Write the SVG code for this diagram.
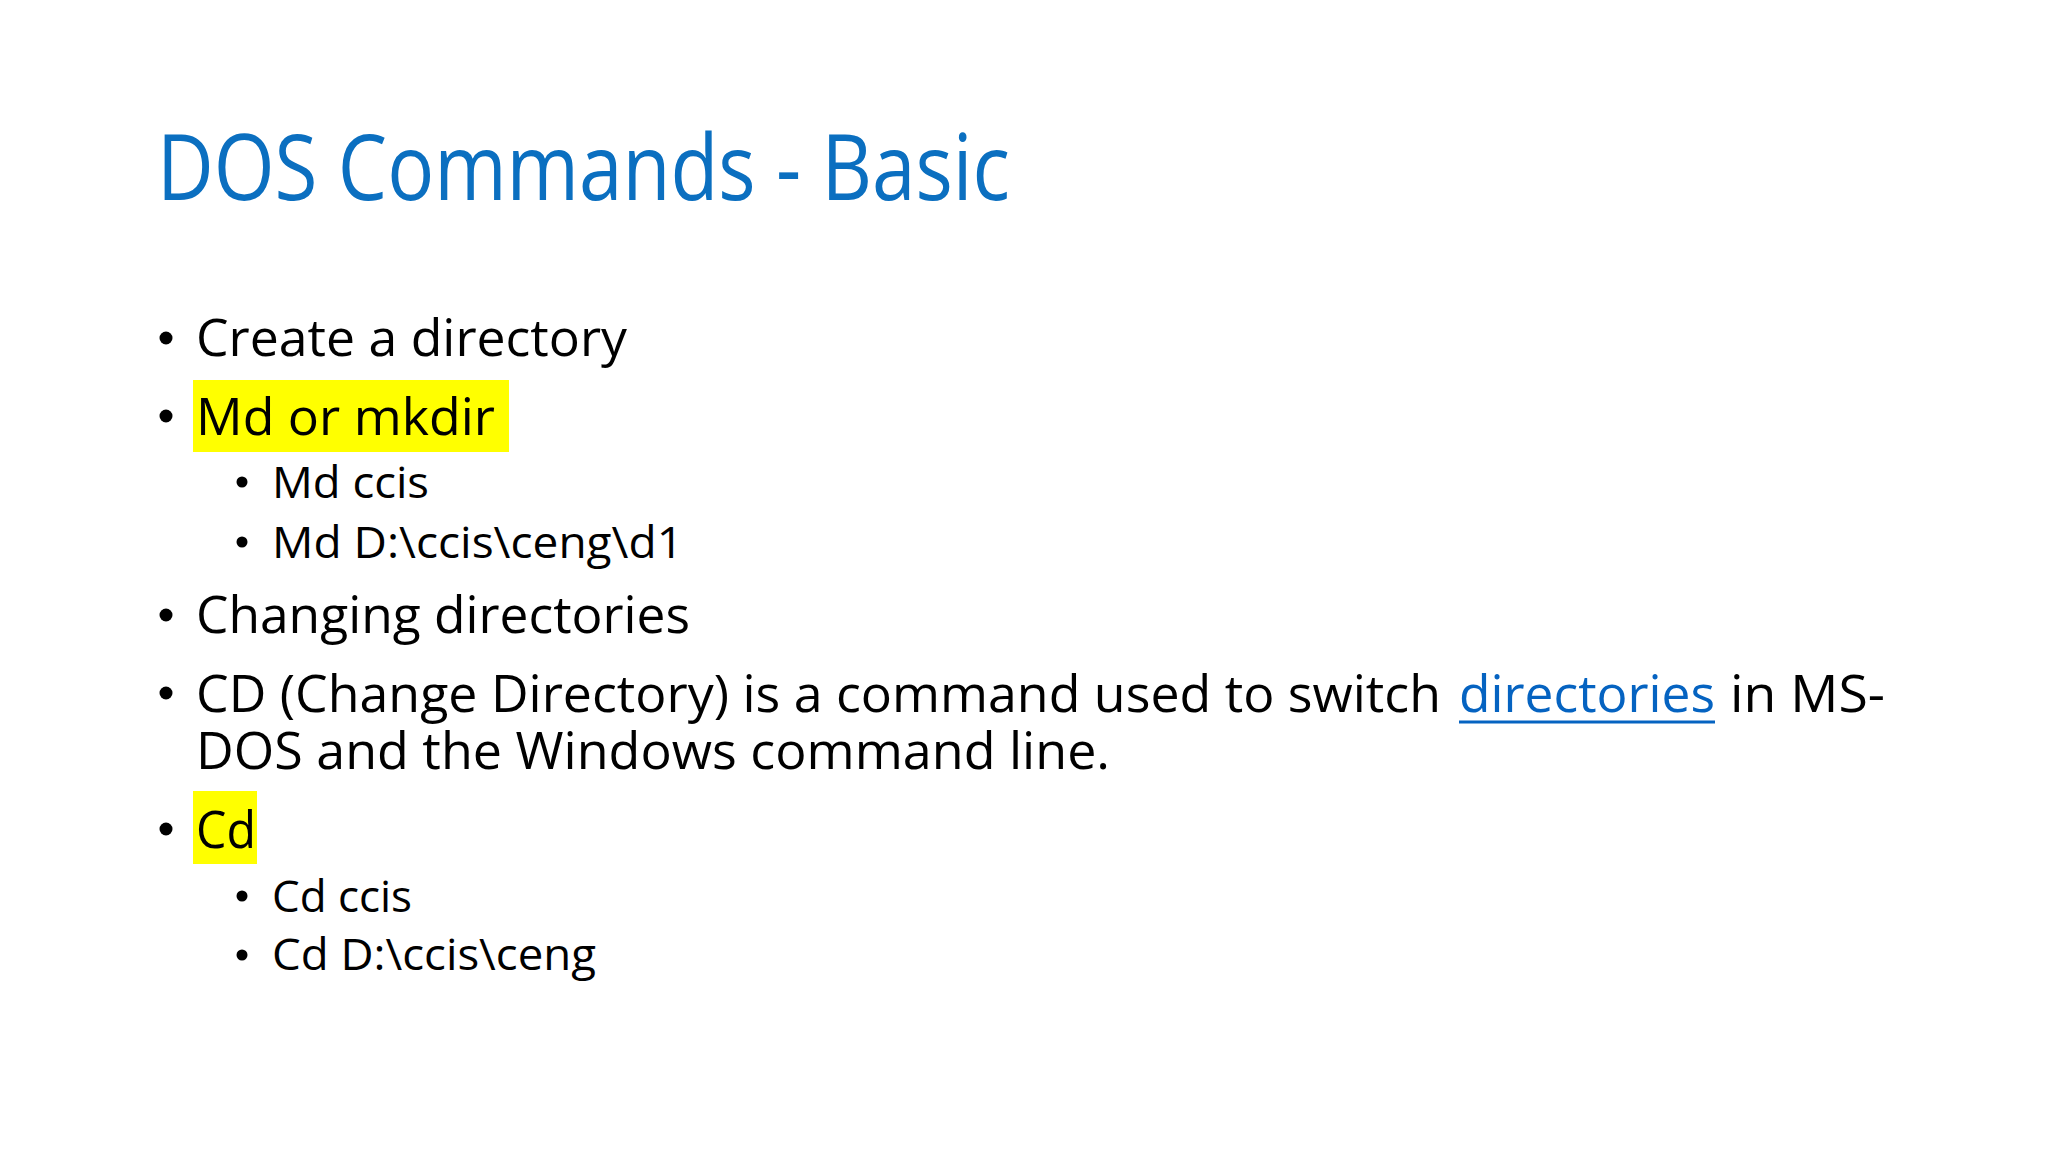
<svg xmlns="http://www.w3.org/2000/svg" width="2048" height="1152" viewBox="0 0 2048 1152">
<style>
.t{font-family:"Open Sans","Liberation Sans",sans-serif;fill:#000}
.b1{font-size:52px}
.b2{font-size:44px}
.dot{fill:#000}
</style>
<rect width="2048" height="1152" fill="#fff"/>
<text x="157" y="200" font-family="Open Sans, Liberation Sans, sans-serif" font-size="92" fill="#0B6FC0" textLength="853" lengthAdjust="spacingAndGlyphs">DOS Commands - Basic</text>
<rect x="193" y="380" width="316" height="72" fill="#FFFF00"/>
<rect x="193" y="791" width="64" height="73" fill="#FFFF00"/>
<g>
<circle class="dot" cx="166" cy="338" r="6.5"/>
<circle class="dot" cx="166" cy="416" r="6.5"/>
<circle class="dot" cx="242" cy="482" r="5.5"/>
<circle class="dot" cx="242" cy="542" r="5.5"/>
<circle class="dot" cx="166" cy="615" r="6.5"/>
<circle class="dot" cx="166" cy="693" r="6.5"/>
<circle class="dot" cx="166" cy="829" r="6.5"/>
<circle class="dot" cx="242" cy="896" r="5.5"/>
<circle class="dot" cx="242" cy="955" r="5.5"/>
</g>
<text class="t b1" x="196" y="356" textLength="431" lengthAdjust="spacingAndGlyphs">Create a directory</text>
<text class="t b1" x="196" y="435" textLength="299" lengthAdjust="spacingAndGlyphs">Md or mkdir</text>
<text class="t b2" x="272" y="498" textLength="157" lengthAdjust="spacingAndGlyphs">Md ccis</text>
<text class="t b2" x="272" y="558" textLength="411" lengthAdjust="spacingAndGlyphs">Md D:\ccis\ceng\d1</text>
<text class="t b1" x="196" y="633" textLength="494" lengthAdjust="spacingAndGlyphs">Changing directories</text>
<text class="t b1" x="196" y="712" textLength="1245" lengthAdjust="spacingAndGlyphs">CD (Change Directory) is a command used to switch</text>
<text class="t b1" x="1459" y="712" style="fill:#0563C1" textLength="256" lengthAdjust="spacingAndGlyphs">directories</text>
<line x1="1459" y1="722" x2="1715" y2="722" stroke="#0563C1" stroke-width="3"/>
<text class="t b1" x="1730" y="712" textLength="155" lengthAdjust="spacingAndGlyphs">in MS-</text>
<text class="t b1" x="196" y="769" textLength="914" lengthAdjust="spacingAndGlyphs">DOS and the Windows command line.</text>
<text class="t b1" x="196" y="848" textLength="60" lengthAdjust="spacingAndGlyphs">Cd</text>
<text class="t b2" x="272" y="912" textLength="140" lengthAdjust="spacingAndGlyphs">Cd ccis</text>
<text class="t b2" x="272" y="970" textLength="324" lengthAdjust="spacingAndGlyphs">Cd D:\ccis\ceng</text>
</svg>
